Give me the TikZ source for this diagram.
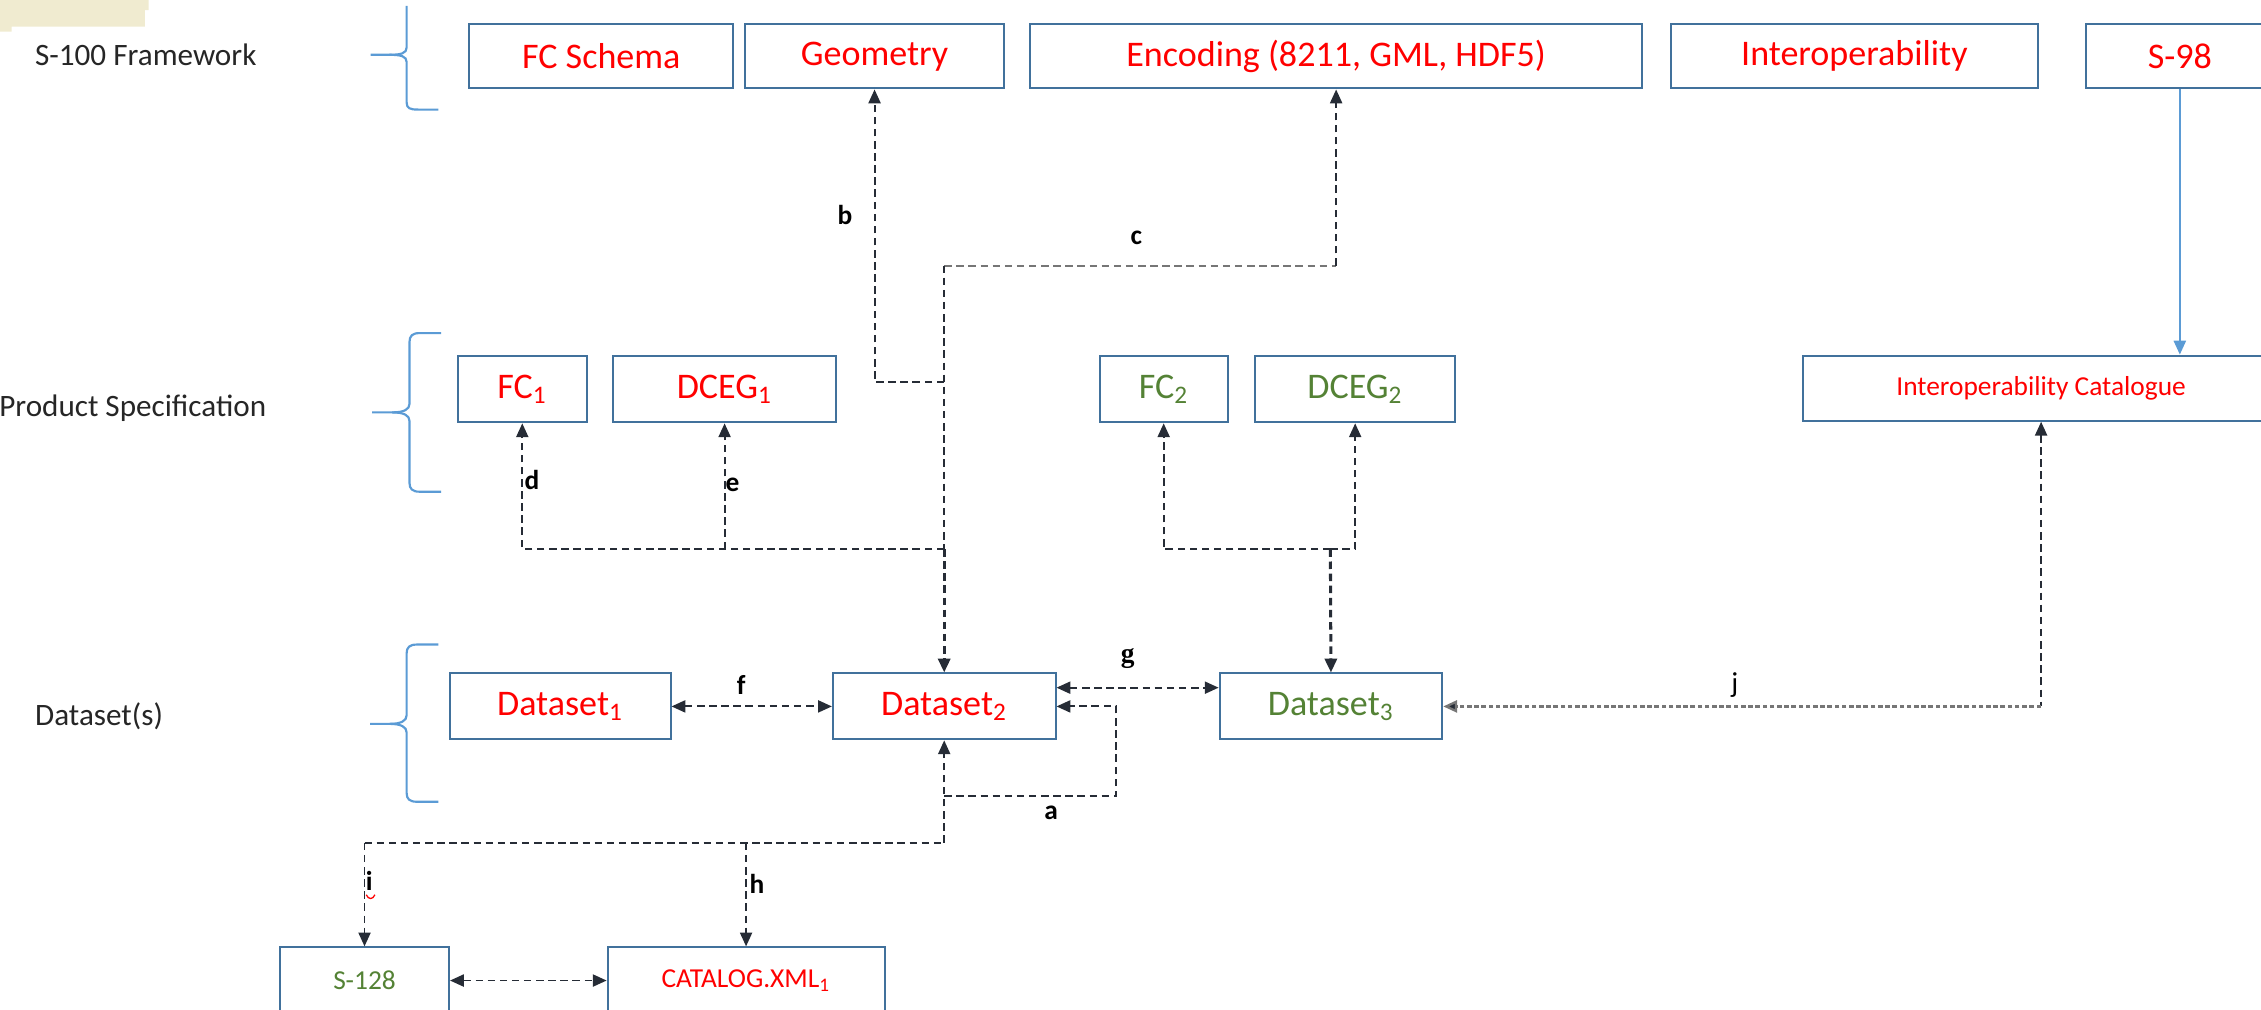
\documentclass[tikz,border=0pt]{standalone}
\usepackage{fontspec}
\setmainfont{Carlito}
\newfontfamily\serifg{Liberation Serif}
\usetikzlibrary{arrows.meta}
\definecolor{boxblue}{RGB}{65,113,156}
\definecolor{brblue}{RGB}{91,155,213}
\definecolor{tred}{RGB}{255,0,0}
\definecolor{tgreen}{RGB}{84,130,53}
\definecolor{conn}{RGB}{38,44,54}
\definecolor{beigec}{RGB}{240,235,208}
\definecolor{lgray}{RGB}{118,118,118}
\definecolor{sidetext}{RGB}{38,38,38}
\begin{document}
\begin{tikzpicture}[x=0.5pt,y=-0.5pt,
  box/.style={draw=boxblue, line width=0.7pt, inner sep=0pt, text=tred, font=\fontsize{12.5}{15}\selectfont},
  sbox/.style={box, font=\fontsize{9.5}{11}\selectfont},
  gtext/.style={text=tgreen},
  cn/.style={draw=conn, line width=0.65pt, dash pattern=on 2.6pt off 1.6pt},
  cnthick/.style={cn, line width=1.05pt},
  jl/.style={draw=lgray, line width=0.8pt, dash pattern=on 1.6pt off 0.9pt},
  lbl/.style={font=\fontsize{9.5}{11}\selectfont\bfseries, text=black, inner sep=0pt},
  side/.style={font=\fontsize{10.8}{13}\selectfont, text=sidetext, inner sep=0pt},
  brace/.style={draw=brblue, line width=0.75pt},
  >={Triangle[length=4.8pt,width=4.2pt]}
]
\useasboundingbox (0,0) rectangle (1568,700);
% beige patch
\fill[beigec] (0,0) -- (103,0) -- (103,7) -- (100.5,7) -- (100.5,18.5) -- (8,18.5) -- (8,22) -- (0,22) -- cycle;

% side labels
\node[side, anchor=west] (l1) at (24,38) {S-100 Framework};
\node[side, anchor=east] (l2) at (185,283) {Product Specification};
\node[side, anchor=west] (l3) at (24,497) {Dataset(s)};

% braces
\draw[brace] (282,4) -- (282,33) .. controls (282,37) and (278,38) .. (270,38) -- (257,38);
\draw[brace] (270,38) .. controls (278,38) and (282,39) .. (282,43) -- (282,71) .. controls (282,75) and (284,76) .. (290,76) -- (304,76);
\draw[brace] (306,231) -- (291,231) .. controls (286,231) and (284,233) .. (284,237) -- (284,280) .. controls (284,284) and (280,286) .. (272,286) -- (258,286);
\draw[brace] (272,286) .. controls (280,286) and (284,288) .. (284,292) -- (284,335) .. controls (284,339) and (286,341) .. (291,341) -- (306,341);
\draw[brace] (304,447) -- (289,447) .. controls (284,447) and (282,449) .. (282,453) -- (282,496) .. controls (282,500) and (278,502) .. (270,502) -- (256.6,502);
\draw[brace] (270,502) .. controls (278,502) and (282,504) .. (282,508) -- (282,550) .. controls (282,554) and (284,556) .. (289,556) -- (304,556);

% row 1
\node[box, minimum width=91.5pt, minimum height=22.35pt] (fcs) at (417,39) {FC Schema};
\node[box, minimum width=90pt, minimum height=22.35pt] (geo) at (606.5,39) {Geometry};
\node[box, minimum width=212pt, minimum height=22.35pt] (enc) at (926.6,39) {Encoding (8211, GML, HDF5)};
\node[box, minimum width=127pt, minimum height=22.35pt] (iop) at (1286,39) {Interoperability};
\node[box, minimum width=65pt, minimum height=22.35pt] (s98) at (1511.7,39) {S-98};

% row 2
\node[box, minimum width=44.8pt, minimum height=23.1pt] (fc1) at (362.2,269.8) {FC\textsubscript{1}};
\node[box, minimum width=77.5pt, minimum height=23.1pt] (dceg1) at (502.5,269.8) {DCEG\textsubscript{1}};
\node[box, gtext, minimum width=44.3pt, minimum height=23.1pt] (fc2) at (807,269.8) {FC\textsubscript{2}};
\node[box, gtext, minimum width=69.2pt, minimum height=23.1pt] (dceg2) at (939.8,269.8) {DCEG\textsubscript{2}};
\node[sbox, minimum width=165pt, minimum height=22.6pt] (ic) at (1415.5,269.2) {Interoperability Catalogue};

% row 3
\node[box, minimum width=76.5pt, minimum height=22.85pt] (ds1) at (388.5,489.9) {Dataset\textsubscript{1}};
\node[box, minimum width=77.2pt, minimum height=22.85pt] (ds2) at (654.8,489.9) {Dataset\textsubscript{2}};
\node[box, gtext, minimum width=77.2pt, minimum height=22.85pt] (ds3) at (923,489.9) {Dataset\textsubscript{3}};

% row 4
\node[sbox, gtext, minimum width=58.6pt, minimum height=23pt] (s128) at (252.8,680) {S-128};
\node[sbox, minimum width=96pt, minimum height=23pt] (cat) at (517.4,680) {CATALOG.XML\textsubscript{1}};

% junction coordinates
\coordinate (bC) at (606.5,264.7);
\coordinate (bJ) at (654.8,264.7);
\coordinate (cL) at (654.8,184.2);
\coordinate (cR) at (926.6,184.2);
\coordinate (deJ) at (654.8,380.8);
\coordinate (dC) at (362.2,380.8);
\coordinate (eC) at (502.5,380.8);
\coordinate (f2C) at (807,381);
\coordinate (d2C) at (939.8,381);
\coordinate (m2) at (922.6,381);
\coordinate (aR1) at (774,489.9);
\coordinate (aR2) at (774,552);
\coordinate (aJ) at (654.8,552);
\coordinate (bot) at (654.8,584.5);
\coordinate (iC) at (252.8,584.5);
\coordinate (hC) at (517.4,584.5);
\coordinate (jC) at (ic.south |- ds3.east);

% connectors
\draw[cn,->] (bJ) -- (bC) -- (geo.south);
\draw[cn, draw=lgray] (cL) -- (cR);
\draw[cn,->] (cR) -- (enc.south);
\draw[cn] (cL) -- (deJ);
\draw[cnthick,->] (deJ) -- (ds2.north);
\draw[cn,->] (deJ) -- (dC) -- (fc1.south);
\draw[cn,->] (eC) -- (dceg1.south);
\draw[cn,->] (m2) -- (f2C) -- (fc2.south);
\draw[cn,->] (m2) -- (d2C) -- (dceg2.south);
\draw[cnthick,->] (m2) -- (ds3.north);
\draw[draw=brblue, line width=0.7pt, ->] (s98.south) -- (s98.south |- ic.north);
\draw[cn,<-] (ic.south) -- (jC);
\draw[jl,->, >={Triangle[length=4.8pt,width=4.2pt,fill=conn]}] (jC) -- (ds3.east);
\draw[cn,<->] (ds1.east) -- (ds2.west);
\draw[cn,<->] ([yshift=6.5pt]ds2.east) -- ([yshift=6.5pt]ds3.west);
\draw[cn,->] (aJ) -- (aR2) -- (aR1) -- (ds2.east);
\draw[cn,->] (bot) -- (ds2.south);
\draw[cn] (iC) -- (bot);
\draw[cn,->] (iC) -- (s128.north);
\draw[cn,->] (hC) -- (cat.north);
\draw[cn,<->] (s128.east) -- (cat.west);

% labels
\node[lbl] (lb) at (586,149) {b};
\node[lbl] (lc) at (788,165) {c};
\node[lbl] (ld) at (369,333) {d};
\node[lbl] (le) at (508,336) {e};
\node[lbl] (lf) at (514,475) {f};
\node[lbl, font=\fontsize{9.5}{11}\selectfont\serifg\bfseries] (lg) at (782,457) {g};
\node[lbl] (la) at (729,564) {a};
\node[lbl] (lh) at (525,613) {h};
\node[lbl] (li) at (256,611) {i};
\node[lbl, font=\fontsize{10}{11}\selectfont] (lj) at (1203,475) {j};
\draw[red, line width=0.45pt] (254,620.5) .. controls (255.5,624) and (258.5,624) .. (260,620.5);
\end{tikzpicture}
\end{document}
